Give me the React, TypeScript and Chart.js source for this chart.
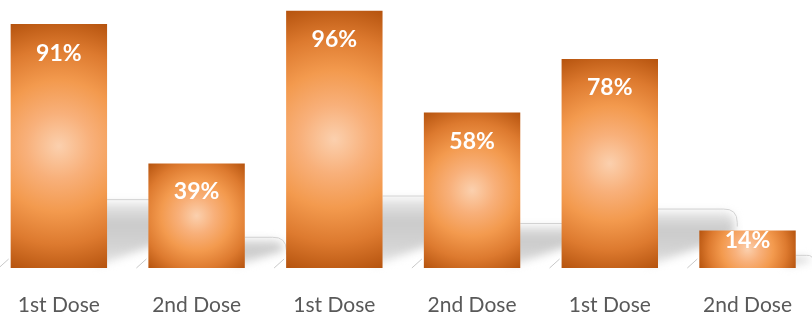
import React, { useEffect, useRef } from "react";
import { Chart, registerables } from "chart.js";
Chart.register(...registerables);

const categories = ["1st Dose", "2nd Dose", "1st Dose", "2nd Dose", "1st Dose", "2nd Dose"];
const values = [91, 39, 96, 58, 78, 14];
const valueLabels = ["91%", "39%", "96%", "58%", "78%", "14%"];

const BAR_PCT = 0.7;

function barGeom(chart: any, i: number) {
  const xs = chart.scales.x;
  const ys = chart.scales.y;
  const cx = xs.getPixelForValue(i);
  const top = ys.getPixelForValue(values[i]);
  const base = ys.getPixelForValue(0);
  const w = (xs.width / categories.length) * BAR_PCT;
  return { cx, top, base, w };
}

const shadowPlugin = {
  id: "floorShadow",
  beforeDatasetsDraw(chart: any) {
    const ctx = chart.ctx;
    const meta = chart.getDatasetMeta(0);
    meta.data.forEach((el: any) => {
      const L = el.x - el.width / 2;
      const R = el.x + el.width / 2;
      const T = el.y;
      const B = el.base;
      const h = B - T;
      const sh = h * 0.27 + 3;
      const dx = h * 0.36 + 4;
      const r = Math.min(14, sh * 0.5);
      ctx.save();
      const g = ctx.createLinearGradient(0, B - sh, 0, B);
      g.addColorStop(0, "rgba(238,238,238,1)");
      g.addColorStop(0.35, "rgba(202,202,202,1)");
      g.addColorStop(0.7, "rgba(212,212,212,1)");
      g.addColorStop(1, "rgba(235,235,235,1)");
      ctx.filter = "blur(4px)";
      ctx.fillStyle = g;
      ctx.beginPath();
      ctx.moveTo(R - 10, B - 2);
      ctx.lineTo(R - 10, B - sh + 3);
      ctx.lineTo(R + dx - r, B - sh + 3);
      ctx.quadraticCurveTo(R + dx - 3, B - sh + 3, R + dx - 3, B - sh + r);
      ctx.lineTo(R + dx - 3, B - sh * 0.55);
      ctx.closePath();
      ctx.fill();
      ctx.filter = "none";
      ctx.strokeStyle = "rgba(210,210,210,1)";
      ctx.lineWidth = 1;
      ctx.beginPath();
      ctx.moveTo(R, B - sh + 0.5);
      ctx.lineTo(R + dx - r, B - sh + 0.5);
      ctx.quadraticCurveTo(R + dx, B - sh, R + dx, B - sh + r);
      ctx.lineTo(R + dx, B - sh + r + 4);
      ctx.stroke();
      // small outline near the base, left of the bar
      ctx.strokeStyle = "rgba(200,200,200,1)";
      ctx.beginPath();
      ctx.moveTo(L - 12, B);
      ctx.lineTo(L - 2, B - 9);
      ctx.stroke();
      ctx.restore();
    });
  },
};

const labelPlugin = {
  id: "valueLabels",
  afterDatasetsDraw(chart: any) {
    const ctx = chart.ctx;
    const meta = chart.getDatasetMeta(0);
    ctx.save();
    ctx.fillStyle = "#ffffff";
    ctx.font = "bold 23px Lato, 'Open Sans', sans-serif";
    ctx.textAlign = "center";
    ctx.textBaseline = "middle";
    meta.data.forEach((el: any, i: number) => {
      const h = el.base - el.y;
      const y = el.y + Math.min(29, h * 0.27);
      ctx.fillText(valueLabels[i], el.x, y);
    });
    ctx.restore();
  },
};

export default function App() {
  const ref = useRef<HTMLCanvasElement | null>(null);
  useEffect(() => {
    if (!ref.current) return;
    const chart = new Chart(ref.current, {
      type: "bar",
      data: {
        labels: categories,
        datasets: [
          {
            data: values,
            barPercentage: BAR_PCT,
            categoryPercentage: 1,
            borderWidth: 0,
            backgroundColor: (c: any) => {
              const chart = c.chart;
              if (!chart.scales || !chart.scales.x || !chart.scales.y || c.dataIndex === undefined) return "#f08a3a";
              const { cx, top, base, w } = barGeom(chart, c.dataIndex);
              const cy = (top + base) / 2;
              const rad = Math.sqrt((w / 2) ** 2 + ((base - top) / 2) ** 2);
              if (![cx, cy, rad].every((v) => Number.isFinite(v)) || rad <= 0) return "#f08a3a";
              const g = chart.ctx.createRadialGradient(cx, cy, 0, cx, cy, rad);
              g.addColorStop(0, "#fbd0ae");
              g.addColorStop(0.25, "#f8b07a");
              g.addColorStop(0.5, "#f39a4e");
              g.addColorStop(0.75, "#dd7a2f");
              g.addColorStop(1, "#b5530e");
              return g;
            },
          },
        ],
      },
      options: {
        responsive: false,
        animation: false,
        devicePixelRatio: 1,
        layout: { padding: 0 },
        plugins: { legend: { display: false }, tooltip: { enabled: false } },
        scales: {
          x: {
            grid: { display: false, drawTicks: false },
            border: { display: false },
            ticks: {
              color: "#595959",
              font: { family: "Lato, 'Open Sans', sans-serif", size: 21 },
              padding: 25,
              maxRotation: 0,
            },
            afterFit: (scale: any) => {
              scale.height = 49;
            },
          },
          y: {
            display: false,
            min: 0,
            max: 100,
          },
        },
      },
      plugins: [shadowPlugin, labelPlugin],
    });
    return () => chart.destroy();
  }, []);
  return (
    <div style={{ position: "fixed", left: 0, top: 0, width: 812, height: 317, overflow: "hidden", background: "#fff" }}>
      <canvas ref={ref} width={827} height={317} style={{ position: "absolute", left: -10, top: 0, width: 827, height: 317 }} />
    </div>
  );
}
